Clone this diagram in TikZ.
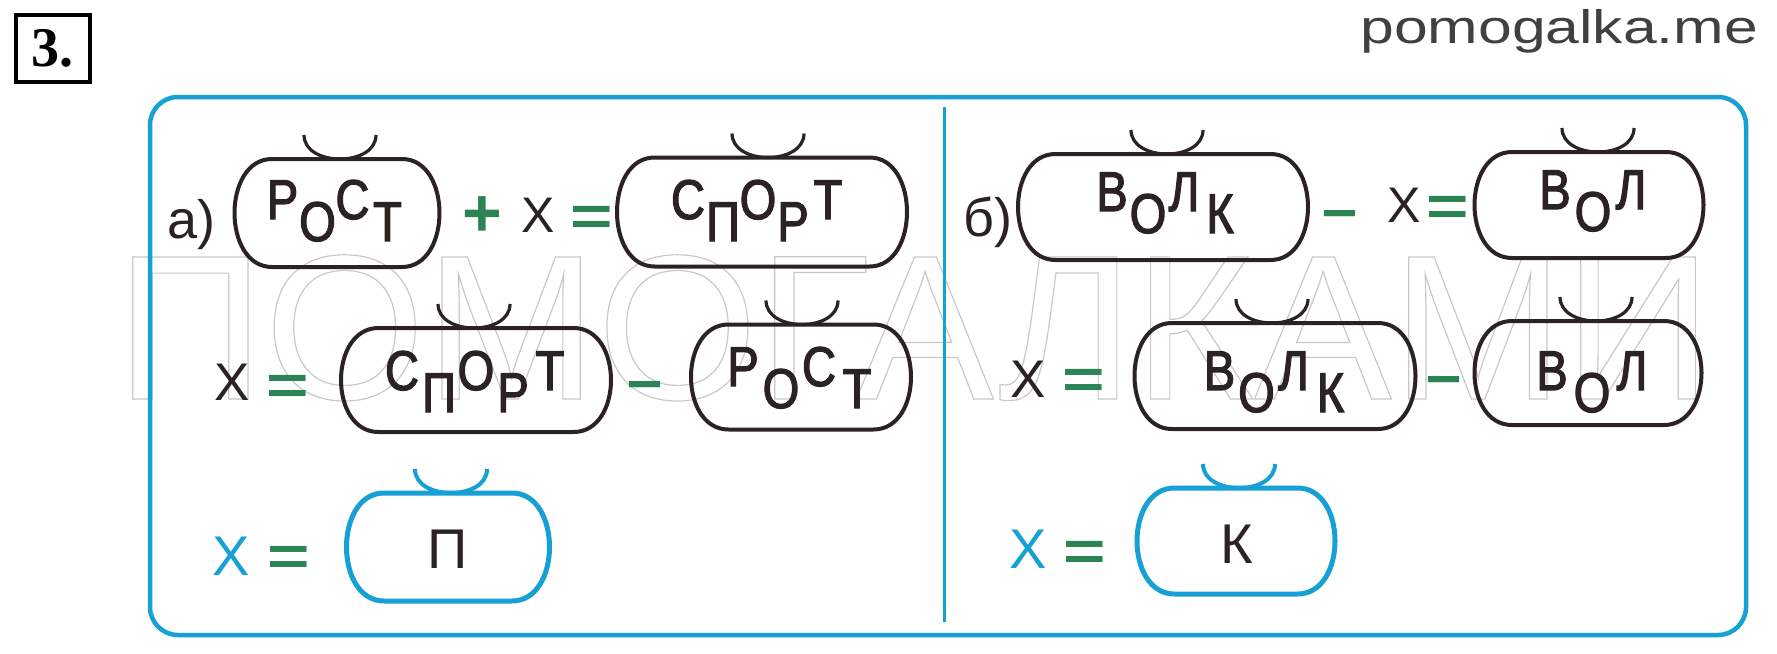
\documentclass[tikz,border=0pt]{standalone}
\usepackage{fontspec}
\usepackage{graphicx}
\setmainfont{Liberation Sans}
\newfontfamily\boxf[FakeStretch=0.84,FakeBold=2.2]{Liberation Sans}
\newfontfamily\serf{Liberation Serif}
\newfontfamily\pomf[FakeStretch=1.29]{Liberation Sans}
\definecolor{cfr}{RGB}{22,160,214}
\definecolor{cink}{RGB}{42,35,33}
\definecolor{csign}{RGB}{44,132,84}
\definecolor{cwm}{RGB}{200,200,200}
\definecolor{cpom}{RGB}{64,64,64}
\newdimen\pit
\newcommand\hl[1]{\makebox[\pit][c]{#1}}
\newcommand\lw[1]{\raisebox{-11pt}{\makebox[\pit][c]{#1}}}
% capsule outline around a named slot node
\newcommand\capsule[2]{%
  \draw[#2] ([xshift=18pt]#1.north west) -- ([xshift=-18pt]#1.north east)
    .. controls ([xshift=7pt]#1.north east) and ([xshift=7pt]#1.south east) .. ([xshift=-18pt]#1.south east)
    -- ([xshift=18pt]#1.south west)
    .. controls ([xshift=-7pt]#1.south west) and ([xshift=-7pt]#1.north west) .. cycle;}
% cup-shaped mark on top of a slot node
\newcommand\hump[3]{%
  \draw[#3] ([xshift=#2pt-18pt,yshift=12pt]#1.north) .. controls +(0,-16pt) and +(0,-16pt) .. ([xshift=#2pt+18pt,yshift=12pt]#1.north);}
\newcommand\eqsign{\scalebox{1.3}[1]{=}}
\tikzset{
  word/.style={inner sep=0pt, anchor=base, text=cink, font=\boxf\fontsize{28}{30}\selectfont},
  lbl/.style={inner sep=0pt, anchor=base west, text=cink, font=\fontsize{27}{29}\selectfont},
  xsm/.style={inner sep=0pt, anchor=base, text=cink, font=\fontsize{25}{27}\selectfont},
  xbig/.style={inner sep=0pt, anchor=base, text=cink, font=\fontsize{26.5}{30}\selectfont},
  xblue/.style={inner sep=0pt, anchor=base, text=cfr, font=\fontsize{28}{30}\selectfont},
  ans/.style={inner sep=0pt, anchor=base, text=cink, font=\fontsize{28}{30}\selectfont},
  eqs/.style={inner sep=0pt, text=csign, font=\bfseries\fontsize{28}{30}\selectfont},
  pls/.style={inner sep=0pt, text=csign, font=\bfseries\fontsize{34}{36}\selectfont},
  mns/.style={inner sep=0pt, text=csign, font=\bfseries\fontsize{31.5}{34}\selectfont},
  slot/.style={inner sep=0pt, outer sep=0pt},
  blk/.style={draw=cink, line width=2pt},
  blu/.style={draw=cfr, line width=2.5pt},
  hmk/.style={draw=cink, line width=1.6pt},
  hmb/.style={draw=cfr, line width=2pt},
}
\begin{document}
\begin{tikzpicture}[x=0.5pt,y=-0.5pt]
\useasboundingbox (0,0) rectangle (1777,653);
\fill[white] (0,0) rectangle (1777,653);
% watermark
\node[inner sep=0pt, anchor=base, text=cwm, font=\fontsize{105}{110}\selectfont] (wm) at (914,399)
  {\special{pdf:literal direct 1 Tr 0.6 w}\resizebox{798pt}{!}{ПОМОГАЛКАМИ}\special{pdf:literal direct 0 Tr}};
% header
\node[draw=black, line width=2pt, minimum width=37pt, minimum height=33.5pt, inner sep=0pt,
      font=\serf\bfseries\fontsize{28}{30}\selectfont] (num) at (53,48.5) {3.};
\node[inner sep=0pt, anchor=base west, text=cpom, font=\pomf\fontsize{23.5}{26}\selectfont] (site) at (1360,43) {pomogalka.me};
% frame and divider
\draw[cfr, line width=2.25pt, rounded corners=14pt] (150,97) rectangle (1746,635);
\coordinate (dtop) at (944,107);
\coordinate (dbot) at (944,622);
\draw[cfr, line width=1.5pt] (dtop) -- (dbot);

% ---------- row 1 left
\node[lbl] (la) at (167,238) {а)};
\node[slot, minimum width=101pt, minimum height=54pt] (b1) at (337,213) {};
\capsule{b1}{blk}\hump{b1}{1.5}{hmk}
\node[word] (w1) at (335,219) {\pit=17.5pt\relax\hl{Р}\lw{О}\hl{С}\lw{Т}};
\node[pls] (p1) at (482,217) {+};
\node[xsm] (x1) at (538,232) {Х};
\node[eqs] (e1) at (592,221) {\eqsign};
\node[slot, minimum width=143.5pt, minimum height=54.5pt] (b2) at (762,212) {};
\capsule{b2}{blk}\hump{b2}{3}{hmk}
\node[word] (w2) at (758,219) {\pit=17.5pt\relax\hl{С}\lw{П}\hl{О}\lw{Р}\hl{Т}};

% ---------- row 1 right
\node[lbl] (lb) at (963,236) {б)};
\node[slot, minimum width=143.5pt, minimum height=53pt] (b3) at (1163,207) {};
\capsule{b3}{blk}\hump{b3}{2}{hmk}
\node[word] (w3) at (1166,211) {\pit=18pt\relax\hl{В}\lw{О}\hl{Л}\lw{К}};
\node[mns] (m1) at (1340,220) {–};
\node[xsm] (x2) at (1404,222) {Х};
\node[eqs] (e2) at (1448,211) {\eqsign};
\node[slot, minimum width=113pt, minimum height=53pt] (b4) at (1589,205) {};
\capsule{b4}{blk}\hump{b4}{4.5}{hmk}
\node[word] (w4) at (1593,209) {\pit=19pt\relax\hl{В}\lw{О}\hl{Л}};

% ---------- row 2 left
\node[xbig] (x3) at (232,400) {Х};
\node[eqs] (e3) at (288,390) {\eqsign};
\node[slot, minimum width=133.5pt, minimum height=52pt] (b5) at (476,380) {};
\capsule{b5}{blk}\hump{b5}{-1}{hmk}
\node[word] (w5) at (476,390) {\pit=18.5pt\relax\hl{С}\lw{П}\hl{О}\lw{Р}\hl{Т}};
\node[mns] (m2) at (645,391) {–};
\node[slot, minimum width=108.5pt, minimum height=52.5pt] (b6) at (801,377) {};
\capsule{b6}{blk}\hump{b6}{0.5}{hmk}
\node[word] (w6) at (800,386) {\pit=19pt\relax\hl{Р}\lw{О}\hl{С}\lw{Т}};

% ---------- row 2 right
\node[xbig] (x4) at (1028,397) {Х};
\node[eqs] (e4) at (1084,384) {\eqsign};
\node[slot, minimum width=139pt, minimum height=53pt] (b7) at (1275,376) {};
\capsule{b7}{blk}\hump{b7}{-1.5}{hmk}
\node[word] (w7) at (1275,390) {\pit=18.5pt\relax\hl{В}\lw{О}\hl{Л}\lw{К}};
\node[mns] (m3) at (1444,386) {–};
\node[slot, minimum width=112pt, minimum height=52pt] (b8) at (1588,373) {};
\capsule{b8}{blk}\hump{b8}{4}{hmk}
\node[word] (w8) at (1592,390) {\pit=20pt\relax\hl{В}\lw{О}\hl{Л}};

% ---------- row 3
\node[xblue] (x5) at (231,575) {Х};
\node[eqs] (e5) at (289,561) {\eqsign};
\node[slot, minimum width=100pt, minimum height=54pt] (b9) at (448,547) {};
\capsule{b9}{blu}\hump{b9}{1.5}{hmb}
\node[ans] (a1) at (448,568) {П};

\node[xblue] (x6) at (1028,568) {Х};
\node[eqs] (e6) at (1085,556) {\eqsign};
\node[slot, minimum width=97.5pt, minimum height=53pt] (b10) at (1236,541) {};
\capsule{b10}{blu}\hump{b10}{1.5}{hmb}
\node[ans] (a2) at (1237,563) {К};
\end{tikzpicture}
\end{document}
